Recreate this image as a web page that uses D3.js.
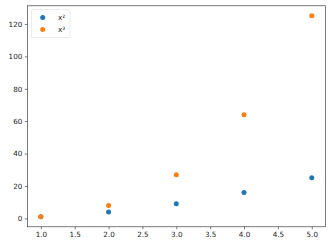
<!DOCTYPE html>
<meta charset="utf-8">
<style>
 body { margin: 0; background: #fff; }
 svg text { font-family: "DejaVu Sans", sans-serif; font-size: 7.2px; fill: #222; }
 .axis path, .axis line { stroke: #222; stroke-width: 0.6px; }
</style>
<svg class="chart" width="331" height="247"></svg>
<script src="https://cdn.jsdelivr.net/npm/d3@7"></script>
<script>
 var xs = [1, 2, 3, 4, 5];
 var squares = [1, 4, 9, 16, 25];
 var cubes = [1, 8, 27, 64, 125];
 var seriesNames = ["x\u00b2", "x\u00b3"];
 var xTicks = [1.0, 1.5, 2.0, 2.5, 3.0, 3.5, 4.0, 4.5, 5.0];
 var yTicks = [0, 20, 40, 60, 80, 100, 120];

 var colors = ["#1f77b4", "#ff7f0e"];
 var plotLeft = 27.3, plotRight = 325.3, plotTop = 5.8, plotBottom = 226.8;

 var svg = d3.select(".chart");

 var x = d3.scaleLinear().domain([0.8, 5.2]).range([plotLeft, plotRight]);
 var y = d3.scaleLinear().domain([-5.2, 131.2]).range([plotBottom, plotTop]);

 var xAxis = svg.append("g").attr("class", "axis")
     .attr("transform", "translate(0," + plotBottom + ")")
     .call(d3.axisBottom(x).tickValues(xTicks).tickFormat(d3.format(".1f"))
           .tickSizeInner(2.5).tickSizeOuter(0).tickPadding(2.5));

 var yAxis = svg.append("g").attr("class", "axis")
     .attr("transform", "translate(" + plotLeft + ",0)")
     .call(d3.axisLeft(y).tickValues(yTicks)
           .tickSizeInner(2.5).tickSizeOuter(0).tickPadding(2.5));

 xAxis.select(".domain").remove();
 yAxis.select(".domain").remove();
 svg.selectAll(".axis text").attr("font-size", null);

 // spines
 svg.append("rect")
     .attr("x", plotLeft).attr("y", plotTop)
     .attr("width", plotRight - plotLeft).attr("height", plotBottom - plotTop)
     .attr("fill", "none").attr("stroke", "#222").attr("stroke-width", 0.6);

 var series = [squares, cubes];
 series.forEach(function(vals, i) {
     svg.append("g").selectAll("circle").data(vals).enter()
         .append("circle")
         .attr("cx", function(d, j) { return x(xs[j]); })
         .attr("cy", function(d) { return y(d); })
         .attr("r", 2.5)
         .attr("fill", colors[i]);
 });

 // legend
 var legend = svg.append("g").attr("transform", "translate(31.5,9.5)");
 legend.append("rect")
     .attr("width", 38.5).attr("height", 28)
     .attr("rx", 1.5)
     .attr("fill", "#fff").attr("fill-opacity", 0.8)
     .attr("stroke", "#ddd").attr("stroke-width", 0.6);

 var item = legend.selectAll(".item").data(seriesNames).enter()
     .append("g")
     .attr("transform", function(d, i) { return "translate(0," + (8 + i * 12) + ")"; });
 item.append("circle").attr("cx", 11.2).attr("r", 2.5)
     .attr("fill", function(d, i) { return colors[i]; });
 item.append("text").attr("x", 26.5).attr("dy", "0.35em").text(function(d) { return d; });
</script>
